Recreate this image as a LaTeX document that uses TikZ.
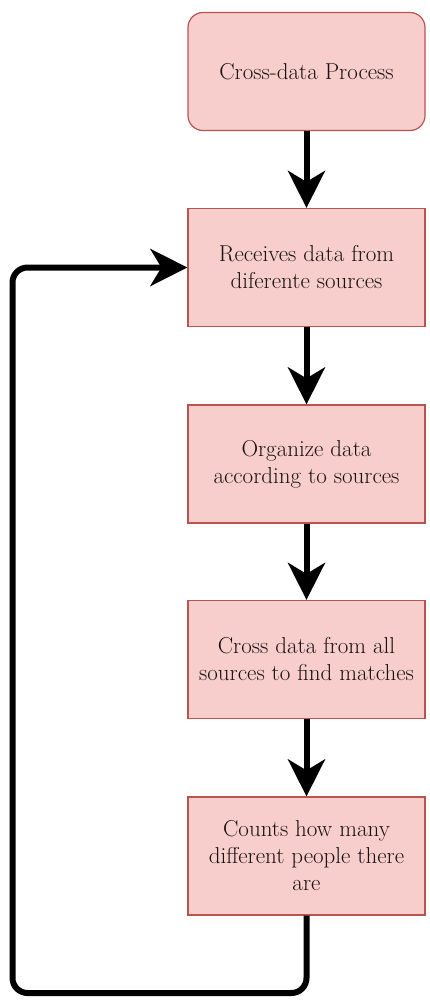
\documentclass[tikz,border=0pt]{standalone}
\usepackage{fontspec}
\usetikzlibrary{arrows.meta}
\definecolor{boxfill}{HTML}{F8CECC}
\definecolor{boxline}{HTML}{B85450}
\definecolor{boxtext}{HTML}{1A1212}
\begin{document}
\begin{tikzpicture}[x=1pt,y=-1pt,
  procbox/.style={draw=boxline, fill=boxfill, line width=1.2pt,
    minimum width=237pt, minimum height=118pt, inner sep=0pt,
    align=center, text=boxtext, font=\fontsize{23}{27}\selectfont},
  conn/.style={line width=6pt, draw=black,
    -{Stealth[length=37pt,width=37pt,inset=11pt]}}]
\useasboundingbox (0,0) rectangle (429,1001);
\node[procbox, rounded corners=15pt] (start) at (306.5,71.5) {Cross-data Process};
\node[procbox] (recv) at (306.5,267.5) {Receives data from\\diferente sources};
\node[procbox] (org) at (306.5,464) {Organize data\\according to sources};
\node[procbox] (cross) at (306.5,659.5) {Cross data from all\\sources to find matches};
\node[procbox] (count) at (306.5,856) {Counts how many\\different people there\\are};
\coordinate (lb) at (12.5,993);
\draw[conn] (start) -- (recv);
\draw[conn] (recv) -- (org);
\draw[conn] (org) -- (cross);
\draw[conn] (cross) -- (count);
\draw[conn, rounded corners=15pt] (count.south) |- (lb) |- (recv.west);
\end{tikzpicture}
\end{document}
